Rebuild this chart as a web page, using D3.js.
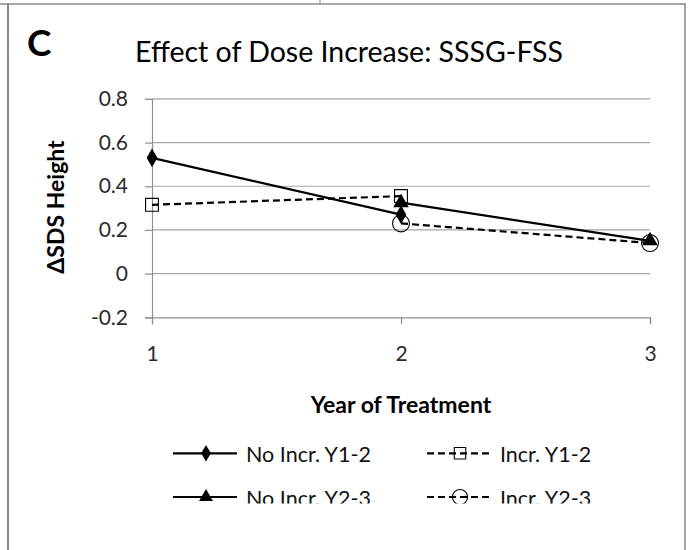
<!DOCTYPE html>
<html><head><meta charset="utf-8">
<script src="https://cdn.jsdelivr.net/npm/d3@7"></script>
<style>body{margin:0;background:#fff}svg{display:block}text{font-family:Lato,"Open Sans",sans-serif}</style>
</head><body><svg id="c" width="694" height="550"></svg>
<script>
const years = [1, 2, 3];
const yTicks = [-0.2, 0, 0.2, 0.4, 0.6, 0.8];
const yTickLabels = ["-0.2", "0", "0.2", "0.4", "0.6", "0.8"];
const seriesNames = ["No Incr. Y1-2", "Incr. Y1-2", "No Incr. Y2-3", "Incr. Y2-3"];
const noIncrY12 = [{x: 1, y: 0.53}, {x: 2, y: 0.27}];
const incrY12 = [{x: 1, y: 0.315}, {x: 2, y: 0.355}];
const noIncrY23 = [{x: 2, y: 0.325}, {x: 3, y: 0.15}];
const incrY23 = [{x: 2, y: 0.23}, {x: 3, y: 0.14}];

const svg = d3.select("#c");
// frame
svg.append("line").attr("x1",0).attr("x2",686).attr("y1",4).attr("y2",4).attr("stroke","#8a8a8a").attr("stroke-width",1.5);
svg.append("line").attr("x1",8).attr("x2",8).attr("y1",4).attr("y2",550).attr("stroke","#8a8a8a").attr("stroke-width",2);
svg.append("line").attr("x1",685).attr("x2",685).attr("y1",4).attr("y2",550).attr("stroke","#8a8a8a").attr("stroke-width",1.5);
svg.append("line").attr("x1",320).attr("x2",320).attr("y1",0).attr("y2",4).attr("stroke","#8a8a8a").attr("stroke-width",1);

const x = d3.scaleLinear().domain([1,3]).range([152,650]);
const y = d3.scaleLinear().domain([-0.2,0.8]).range([317.3,98.9]);

// gridlines
svg.append("g").selectAll("line").data(yTicks.slice(1)).join("line")
  .attr("x1",152).attr("x2",650).attr("y1",d=>y(d)).attr("y2",d=>y(d))
  .attr("stroke","#a6a6a6").attr("stroke-width",1.2);

// y axis
const ya = svg.append("g").attr("transform","translate(152,0)")
  .call(d3.axisLeft(y).tickValues(yTicks).tickFormat((d,i)=>yTickLabels[i]).tickSize(7).tickPadding(17));
ya.select(".domain").attr("stroke","#8f8f8f").attr("stroke-width",1.2);
ya.selectAll(".tick line").attr("stroke","#8f8f8f").attr("stroke-width",1.2);
ya.selectAll("text").attr("font-size",21).attr("fill","#2a2a2a").style("font-family","Lato");

// x axis
const xa = svg.append("g").attr("transform",`translate(0,${y(-0.2)})`)
  .call(d3.axisBottom(x).tickValues(years).tickFormat(d3.format("d")).tickSize(7).tickPadding(22));
xa.select(".domain").attr("stroke","#8f8f8f").attr("stroke-width",1.2);
xa.selectAll(".tick line").attr("stroke","#8f8f8f").attr("stroke-width",1.2);
xa.selectAll("text").attr("font-size",21).attr("fill","#2a2a2a").style("font-family","Lato");

const line = d3.line().x(d=>x(d.x)).y(d=>y(d.y));
const series = [
  {name: seriesNames[0], data: noIncrY12, dash: null, sym: d3.symbolDiamond, size: 100, fill: "#000"},
  {name: seriesNames[1], data: incrY12, dash: "7,4", sym: d3.symbolSquare, size: 165, fill: "none"},
  {name: seriesNames[2], data: noIncrY23, dash: null, sym: d3.symbolTriangle, size: 105, fill: "#000"},
  {name: seriesNames[3], data: incrY23, dash: "7,4", sym: d3.symbolCircle, size: 225, fill: "none"}
];
series.forEach(s=>{
  svg.append("path").attr("d",line(s.data)).attr("fill","none").attr("stroke","#000")
    .attr("stroke-width",2.2).attr("stroke-dasharray",s.dash);
});
series.forEach(s=>{
  svg.append("g").selectAll("path").data(s.data).join("path")
    .attr("transform",d=>`translate(${x(d.x)},${y(d.y)})`)
    .attr("d",d3.symbol().type(s.sym).size(s.size))
    .attr("fill",s.fill).attr("stroke","#000").attr("stroke-width",s.fill==="none"?1.1:0);
});

// titles
svg.append("text").attr("x",27).attr("y",56).attr("font-size",37).attr("font-weight","bold").text("C");
svg.append("text").attr("x",349).attr("y",62).attr("text-anchor","middle").attr("font-size",28.5).text("Effect of Dose Increase: SSSG-FSS");
svg.append("text").attr("transform","translate(64,207) rotate(-90)").attr("text-anchor","middle")
  .attr("font-size",23).attr("font-weight","bold").text("ΔSDS Height");
svg.append("text").attr("x",401).attr("y",413).attr("text-anchor","middle")
  .attr("font-size",23).attr("font-weight","bold").text("Year of Treatment");

// legend
svg.append("clipPath").attr("id","lc").append("rect").attr("x",0).attr("y",420).attr("width",694).attr("height",83.5);
const lg = svg.append("g").attr("clip-path","url(#lc)");
const pos = [{lx:173,y:453.3},{lx:427,y:453.3},{lx:173,y:497},{lx:427,y:497}];
series.forEach((s,i)=>{
  const p = pos[i];
  lg.append("line").attr("x1",p.lx).attr("x2",p.lx+64).attr("y1",p.y).attr("y2",p.y)
    .attr("stroke","#000").attr("stroke-width",2.2).attr("stroke-dasharray",s.dash);
  lg.append("path").attr("transform",`translate(${p.lx+33},${p.y})`)
    .attr("d",d3.symbol().type(s.sym).size(s.size*0.8))
    .attr("fill",s.fill).attr("stroke","#000").attr("stroke-width",s.fill==="none"?1.1:0);
  lg.append("text").attr("x",p.lx+73).attr("y",p.y+8.5).attr("font-size",21.5).attr("fill","#111").text(s.name);
});
</script></body></html>
